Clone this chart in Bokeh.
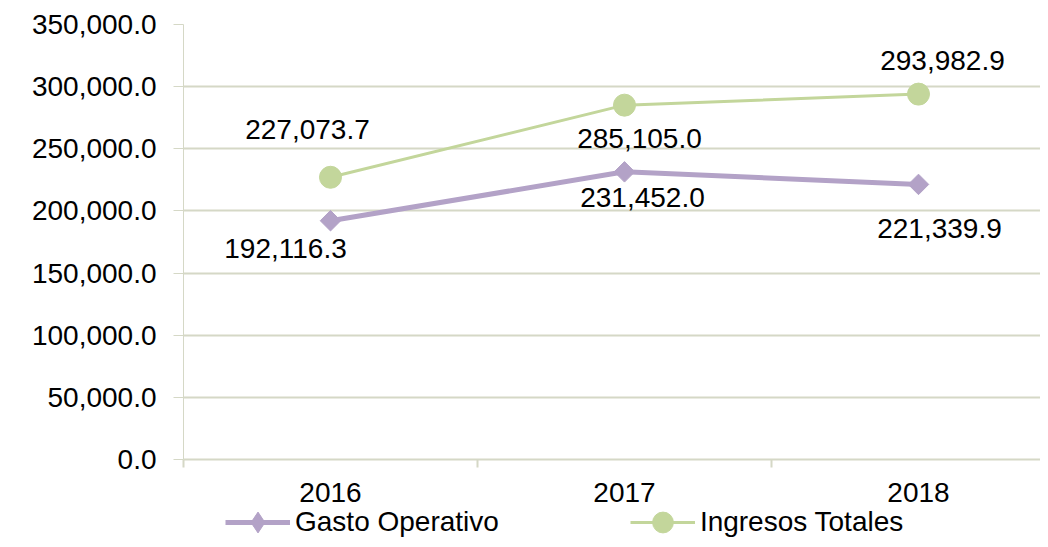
import math
from bokeh.plotting import figure
from bokeh.layouts import column
from bokeh.models import ColumnDataSource, Range1d, FixedTicker, NumeralTickFormatter, Legend, LegendItem
from bokeh.core.properties import value
from bokeh.embed import file_html
from bokeh.resources import INLINE

years = ["2016", "2017", "2018"]
gasto = [192116.3, 231452.0, 221339.9]
ingresos = [227073.7, 285105.0, 293982.9]
y_ticks = [0, 50000, 100000, 150000, 200000, 250000, 300000, 350000]
series_names = ["Gasto Operativo", "Ingresos Totales"]

xpos = list(range(len(years)))
FONT = "Liberation Sans"
FS = "28px"
GRID = "#D5D8C6"
PURPLE = "#B3A2C7"
GREEN = "#C3D69B"

def fmt(v):
    return f"{v:,.1f}"

src_g = ColumnDataSource(dict(x=xpos, y=gasto, lab=[fmt(v) for v in gasto],
                              dx=[-45, 18, 21], dy=[28, 26, 44]))
src_i = ColumnDataSource(dict(x=xpos, y=ingresos, lab=[fmt(v) for v in ingresos],
                              dx=[-23, 15, 24], dy=[-48, 33, -34]))

W = 1040
H_MAIN = 506
H_LEG = 33

p = figure(width=W, height=H_MAIN, output_backend="svg", toolbar_location=None,
           x_range=Range1d(-0.5, 2.415), y_range=Range1d(0, 350000),
           min_border_left=183, min_border_right=0, min_border_top=24, min_border_bottom=47)
p.outline_line_color = None
p.background_fill_color = "white"
p.border_fill_color = "white"

# axes
p.yaxis.ticker = FixedTicker(ticks=y_ticks)
p.yaxis.formatter = NumeralTickFormatter(format="0,0.0")
p.yaxis.axis_line_color = GRID
p.yaxis.major_tick_line_color = GRID
p.yaxis.major_tick_out = 10
p.yaxis.major_tick_in = 0
p.yaxis.minor_tick_line_color = None
p.yaxis.major_label_standoff = 17
p.yaxis.major_label_text_font = FONT
p.yaxis.major_label_text_font_size = FS
p.yaxis.major_label_text_color = "black"

p.xaxis.ticker = FixedTicker(ticks=xpos, minor_ticks=[-0.5, 0.5, 1.5])
p.xaxis.major_label_overrides = {i: y for i, y in zip(xpos, years)}
p.xaxis.axis_line_color = GRID
p.xaxis.axis_line_width = 2
p.xaxis.major_tick_line_color = None
p.xaxis.major_tick_out = 0
p.xaxis.major_tick_in = 0
p.xaxis.minor_tick_line_color = GRID
p.xaxis.minor_tick_line_width = 2
p.xaxis.minor_tick_out = 8
p.xaxis.minor_tick_in = 0
p.xaxis.major_label_standoff = 15
p.xaxis.major_label_text_font = FONT
p.xaxis.major_label_text_font_size = FS
p.xaxis.major_label_text_color = "black"

p.xgrid.grid_line_color = None
p.ygrid.ticker = FixedTicker(ticks=y_ticks)
p.ygrid.grid_line_color = GRID
p.ygrid.grid_line_width = 2

# series
p.line("x", "y", source=src_g, line_color=PURPLE, line_width=5)
p.scatter("x", "y", source=src_g, marker="square", angle=math.pi / 4, size=14.5,
          fill_color=PURPLE, line_color=PURPLE)
p.line("x", "y", source=src_i, line_color=GREEN, line_width=3)
p.scatter("x", "y", source=src_i, marker="circle", size=22, fill_color=GREEN, line_color=GREEN)

for s in (src_g, src_i):
    p.text("x", "y", text="lab", source=s, x_offset="dx", y_offset="dy",
           text_align="center", text_baseline="middle",
           text_font=value(FONT), text_font_size=FS, text_color="black")

# legend strip (separate figure so it is not clipped by the plot frame);
# its renderers carry the series but lie outside its view, only the legend shows
pl = figure(width=W, height=H_LEG, output_backend="svg", toolbar_location=None,
            x_range=Range1d(-10, -9), y_range=Range1d(-10, -9),
            x_axis_type=None, y_axis_type=None,
            min_border_left=0, min_border_right=0, min_border_top=0, min_border_bottom=0)
pl.outline_line_color = None
pl.grid.visible = False
kg1 = pl.line("x", "y", source=src_g, line_color=PURPLE, line_width=5)
kg2 = pl.scatter("x", "y", source=src_g, marker="diamond", size=20, fill_color=PURPLE, line_color=PURPLE)
ki1 = pl.line("x", "y", source=src_i, line_color=GREEN, line_width=3)
ki2 = pl.scatter("x", "y", source=src_i, marker="circle", size=20, fill_color=GREEN, line_color=GREEN)

legend = Legend(items=[LegendItem(label=series_names[0], renderers=[kg1, kg2]),
                       LegendItem(label=series_names[1], renderers=[ki1, ki2])],
                location=(42, -9), orientation="horizontal",
                glyph_width=65, glyph_height=52, label_standoff=5, label_height=20,
                label_text_font=FONT, label_text_font_size=FS, label_text_color="black",
                label_text_baseline="middle",
                padding=0, margin=0, spacing=131,
                background_fill_alpha=0, border_line_color=None)
pl.add_layout(legend, "center")

layout = column(p, pl, spacing=0)
open("out.html", "w").write(file_html(layout, INLINE))
